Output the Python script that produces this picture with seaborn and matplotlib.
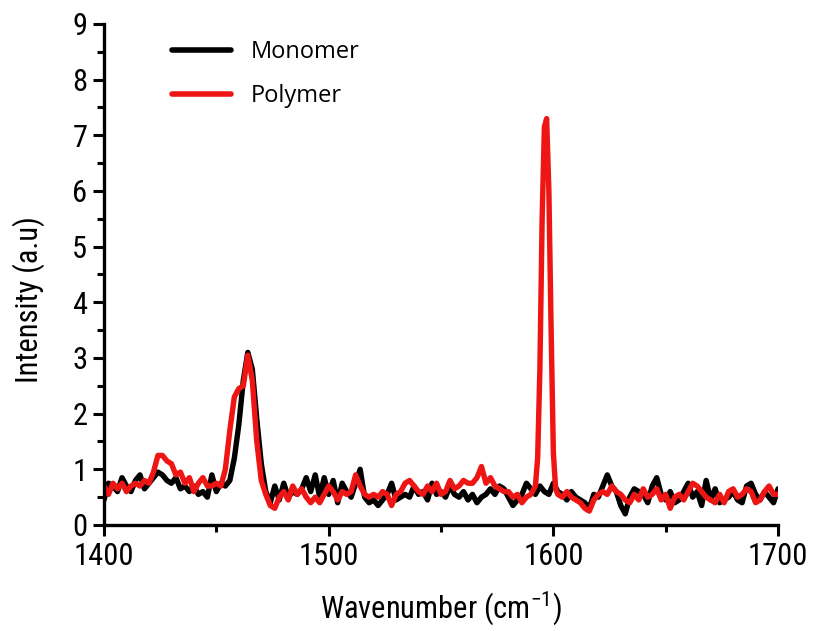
import numpy as np
import pandas as pd
import matplotlib
matplotlib.use("Agg")
import matplotlib.pyplot as plt
import seaborn as sns
from matplotlib import font_manager
from matplotlib.ticker import MultipleLocator

# ---------------- data ----------------
monomer_wn = list(range(1400, 1701, 2))
monomer_int = [
    0.45, 0.75, 0.70, 0.60, 0.85, 0.70, 0.60, 0.80, 0.90, 0.65,   # 1400-1418
    0.75, 0.85, 0.95, 0.90, 0.80, 0.75, 0.85, 0.65, 0.70, 0.60,   # 1420-1438
    0.70, 0.55, 0.60, 0.50, 0.90, 0.60, 0.75, 0.70, 0.80, 1.20,   # 1440-1458
    1.80, 2.60, 3.10, 2.80, 1.90, 1.10, 0.60, 0.40, 0.70, 0.45,   # 1460-1478
    0.75, 0.50, 0.60, 0.55, 0.65, 0.85, 0.60, 0.90, 0.50, 0.85,   # 1480-1498
    0.55, 0.80, 0.40, 0.75, 0.60, 0.50, 0.75, 1.00, 0.50, 0.40,   # 1500-1518
    0.45, 0.35, 0.45, 0.55, 0.75, 0.45, 0.50, 0.55, 0.50, 0.70,   # 1520-1538
    0.55, 0.60, 0.45, 0.75, 0.55, 0.60, 0.50, 0.70, 0.55, 0.50,   # 1540-1558
    0.60, 0.45, 0.55, 0.40, 0.50, 0.55, 0.65, 0.55, 0.70, 0.65,   # 1560-1578
    0.50, 0.35, 0.45, 0.55, 0.75, 0.65, 0.55, 0.70, 0.60, 0.55,   # 1580-1598
    0.75, 0.60, 0.55, 0.45, 0.60, 0.50, 0.45, 0.40, 0.30, 0.55,   # 1600-1618
    0.50, 0.70, 0.90, 0.70, 0.60, 0.35, 0.20, 0.50, 0.65, 0.60,   # 1620-1638
    0.55, 0.40, 0.70, 0.85, 0.55, 0.45, 0.60, 0.40, 0.45, 0.60,   # 1640-1658
    0.75, 0.50, 0.60, 0.35, 0.80, 0.45, 0.65, 0.40, 0.45, 0.50,   # 1660-1678
    0.60, 0.45, 0.40, 0.70, 0.75, 0.55, 0.45, 0.60, 0.50, 0.40,   # 1680-1698
    0.65,                                                         # 1700
]

polymer_wn = (list(range(1400, 1592, 2))
              + [1592, 1593, 1594, 1595, 1596, 1597, 1598, 1599, 1600, 1601]
              + list(range(1602, 1701, 2)))
polymer_int = [
    0.70, 0.55, 0.75, 0.65, 0.75, 0.60, 0.70, 0.75, 0.70, 0.80,   # 1400-1418
    0.75, 0.95, 1.25, 1.25, 1.15, 1.10, 0.90, 0.95, 0.75, 0.85,   # 1420-1438
    0.60, 0.75, 0.85, 0.70, 0.70, 0.75, 0.70, 1.00, 1.70, 2.30,   # 1440-1458
    2.45, 2.50, 3.05, 2.60, 1.50, 0.80, 0.55, 0.35, 0.30, 0.50,   # 1460-1478
    0.60, 0.45, 0.70, 0.55, 0.65, 0.50, 0.40, 0.50, 0.40, 0.55,   # 1480-1498
    0.70, 0.60, 0.45, 0.60, 0.55, 0.60, 0.90, 0.70, 0.55, 0.50,   # 1500-1518
    0.55, 0.50, 0.60, 0.55, 0.35, 0.55, 0.60, 0.75, 0.80, 0.70,   # 1520-1538
    0.60, 0.55, 0.70, 0.60, 0.75, 0.55, 0.60, 0.80, 0.65, 0.70,   # 1540-1558
    0.80, 0.75, 0.75, 0.85, 1.05, 0.75, 0.85, 0.70, 0.65, 0.60,   # 1560-1578
    0.60, 0.50, 0.55, 0.40, 0.50, 0.55,                           # 1580-1590
    0.70, 1.20, 2.80, 5.50, 7.15, 7.30, 6.00, 3.50, 1.30, 0.65,   # 1592-1601
    0.55, 0.50, 0.60, 0.50, 0.45, 0.40, 0.30, 0.25, 0.45, 0.55,   # 1602-1620
    0.60, 0.55, 0.70, 0.60, 0.55, 0.45, 0.40, 0.55, 0.45, 0.65,   # 1622-1640
    0.50, 0.55, 0.65, 0.45, 0.55, 0.30, 0.50, 0.55, 0.45, 0.60,   # 1642-1660
    0.75, 0.70, 0.60, 0.50, 0.45, 0.40, 0.55, 0.40, 0.60, 0.65,   # 1662-1680
    0.50, 0.55, 0.65, 0.60, 0.40, 0.45, 0.60, 0.70, 0.55, 0.55,   # 1682-1700
]

series_names = ["Monomer", "Polymer"]
series_colors = ["#000000", "#ee1515"]
x_ticks = [1400, 1500, 1600, 1700]
y_ticks = list(range(0, 10))

df = pd.concat([
    pd.DataFrame({"Wavenumber": monomer_wn, "Intensity": monomer_int, "Sample": "Monomer"}),
    pd.DataFrame({"Wavenumber": polymer_wn, "Intensity": polymer_int, "Sample": "Polymer"}),
], ignore_index=True)

# ---------------- style ----------------
sns.set_style("ticks")
avail = {f.name for f in font_manager.fontManager.ttflist}
main_font = "DejaVu Sans"
for cand in ["Liberation Sans Narrow", "Roboto Condensed", "Open Sans Condensed",
             "Noto Sans Condensed", "Open Sans", "Liberation Sans"]:
    if cand in avail:
        main_font = cand
        break
plt.rcParams["font.family"] = [main_font, "DejaVu Sans"]
plt.rcParams["mathtext.fontset"] = "custom"
plt.rcParams["mathtext.rm"] = main_font
plt.rcParams["text.color"] = "black"
plt.rcParams["axes.labelcolor"] = "black"
plt.rcParams["xtick.color"] = "black"
plt.rcParams["ytick.color"] = "black"
plt.rcParams["axes.edgecolor"] = "black"
legend_font = "Open Sans" if "Open Sans" in avail else main_font

fig = plt.figure(figsize=(8.19, 6.31), dpi=100)
ax = fig.add_axes([0.127, 0.168, 0.823, 0.794])

sns.lineplot(data=df, x="Wavenumber", y="Intensity", hue="Sample",
             hue_order=series_names, palette=series_colors,
             linewidth=3.9, ax=ax, estimator=None, sort=True, legend=True)
for ln in ax.get_lines():
    ln.set_solid_joinstyle("round")
    ln.set_solid_capstyle("round")

ax.set_xlim(1400, 1700)
ax.set_ylim(0, 9)
ax.set_xticks(x_ticks)
ax.set_yticks(y_ticks)
ax.xaxis.set_minor_locator(MultipleLocator(50))
ax.yaxis.set_minor_locator(MultipleLocator(0.5))
ax.tick_params(axis="both", which="major", direction="out", length=8, width=2.2,
               labelsize=22, pad=4, colors="black")
ax.tick_params(axis="both", which="minor", direction="out", length=5, width=2.2,
               colors="black")

for s in ["top", "right"]:
    ax.spines[s].set_visible(False)
for s in ["left", "bottom"]:
    ax.spines[s].set_linewidth(2.4)
    ax.spines[s].set_color("black")

ax.set_xlabel("Wavenumber (cm$^{-1}$)", fontsize=22, labelpad=13, color="black")
ax.set_ylabel("Intensity (a.u)", fontsize=22, color="black")
ax.yaxis.set_label_coords(-0.088, 0.45)

leg = ax.legend(loc="upper left", bbox_to_anchor=(0.07, 1.01), frameon=False,
                handlelength=2.5, handletextpad=0.8, labelspacing=0.85,
                prop={"family": legend_font, "size": 17})
for line in leg.get_lines():
    line.set_linewidth(4)
for t in leg.get_texts():
    t.set_color("black")

fig.savefig("out.png", dpi=100)
